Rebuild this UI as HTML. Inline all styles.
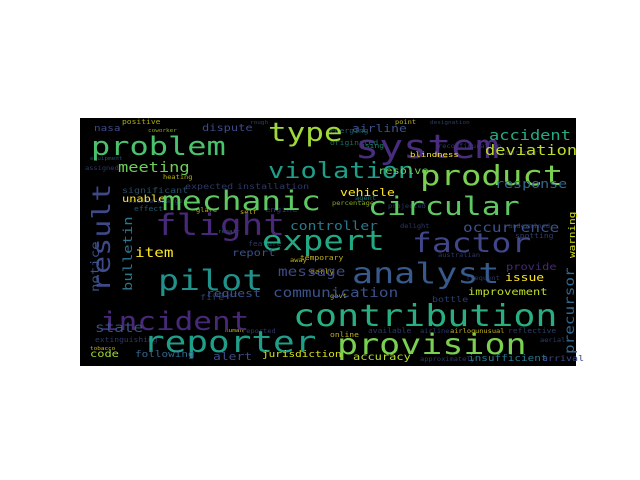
<!DOCTYPE html>
<html><head><meta charset="utf-8"><style>
html,body{margin:0;padding:0;background:#fff;width:640px;height:480px;overflow:hidden}
svg text{font-family:"DejaVu Sans Mono","Liberation Mono",monospace}
</style></head><body>
<svg id="cloud" width="640" height="480" xmlns="http://www.w3.org/2000/svg">
<rect x="80" y="118" width="496" height="248" fill="#000"/>
<g opacity="0.75">
<text x="122" y="124" font-size="8" fill="#d8e219">positive</text>
<text x="148" y="132" font-size="6" fill="#b5de2b">coworker</text>
<text x="250" y="124" font-size="6" fill="#3b528b">rough</text>
<text x="122" y="193" font-size="10" fill="#31688e">significant</text>
<text x="185" y="189" font-size="10" fill="#3e4a89">expected</text>
<text x="237" y="189" font-size="10" fill="#3e4a89">installation</text>
<text x="265" y="212" font-size="9" fill="#3e4a89">engine</text>
<text x="240" y="214" font-size="7" fill="#fde725">self</text>
<text x="196" y="212" font-size="7" fill="#fde725">glare</text>
<text x="134" y="211" font-size="8" fill="#2a788e">effect</text>
<text x="128" y="203" font-size="7" fill="#3b528b">countercharge</text>
<text x="163" y="179" font-size="7" fill="#e5e419">heating</text>
<text x="85" y="170" font-size="7" fill="#3e4a89">assigned</text>
<text x="90" y="160" font-size="6" fill="#31688e">equipment</text>
<text x="360" y="148" font-size="8" fill="#25ab82">using</text>
<text x="330" y="145" font-size="8" fill="#21918c">originated</text>
<text x="330" y="133" font-size="8" fill="#2a788e">emerging</text>
<text x="438" y="148" font-size="7" fill="#3e4a89">reconfiguration</text>
<text x="500" y="155" font-size="8" fill="#482878">improper</text>
<text x="430" y="124" font-size="6" fill="#3b528b">designation</text>
<text x="395" y="124" font-size="7" fill="#fde725">point</text>
<text x="388" y="208" font-size="7" fill="#3e4a89">projected</text>
<text x="355" y="200" font-size="7" fill="#21918c">agent</text>
<text x="332" y="205" font-size="7" fill="#b5de2b">percentage</text>
<text x="515" y="238" font-size="8" fill="#3b528b">spotting</text>
<text x="508" y="228" font-size="7" fill="#3b528b">undermined</text>
<text x="400" y="228" font-size="7" fill="#3e4a89">delight</text>
<text x="438" y="257" font-size="7" fill="#3e4a89">australian</text>
<text x="466" y="280" font-size="7" fill="#3e4a89">frequent</text>
<text x="330" y="298" font-size="7" fill="#fde725">govt</text>
<text x="432" y="302" font-size="10" fill="#3b528b">bottle</text>
<text x="200" y="300" font-size="10" fill="#3b528b">fire</text>
<text x="330" y="337" font-size="8" fill="#fde725">online</text>
<text x="368" y="333" font-size="8" fill="#3e4a89">available</text>
<text x="420" y="333" font-size="7" fill="#3e4a89">airline</text>
<text x="450" y="333" font-size="7" fill="#fde725">airlog</text>
<text x="475" y="333" font-size="7" fill="#fde725">unusual</text>
<text x="508" y="333" font-size="8" fill="#3b528b">reflective</text>
<text x="540" y="342" font-size="7" fill="#3b528b">aerial</text>
<text x="95" y="342" font-size="8" fill="#3e4a89">extinguishing</text>
<text x="90" y="350" font-size="6" fill="#fde725">tobacco</text>
<text x="208" y="297" font-size="7" fill="#3e4a89">contact</text>
<text x="290" y="262" font-size="7" fill="#fde725">away</text>
<text x="300" y="260" font-size="8" fill="#fde725">temporary</text>
<text x="310" y="274" font-size="8" fill="#fde725">early</text>
<text x="242" y="333" font-size="7" fill="#3e4a89">reported</text>
<text x="225" y="332" font-size="6" fill="#fde725">human</text>
<text x="248" y="246" font-size="8" fill="#3e4a89">feature</text>
<text x="420" y="361" font-size="7" fill="#3e4a89">approximately</text>
<text x="218" y="233" font-size="6" fill="#21918c">repair</text>
</g>
<g>
<text x="91" y="155" font-size="32" fill="#4ac16d">problem</text>
<text x="268" y="141" font-size="31" fill="#a0da39">type</text>
<text x="355" y="158" font-size="40" fill="#472d7b">system</text>
<text x="352" y="132" font-size="13" fill="#3b528b">airline</text>
<text x="489" y="140" font-size="17" fill="#25ab82">accident</text>
<text x="485" y="155" font-size="17" fill="#bddf26">deviation</text>
<text x="94" y="131" font-size="11" fill="#3e4a89">nasa</text>
<text x="202" y="131" font-size="12" fill="#3e4a89">dispute</text>
<text x="118" y="172" font-size="17" fill="#6ece58">meeting</text>
<text x="268" y="178" font-size="27" fill="#1f9e89">violation</text>
<text x="420" y="185" font-size="34" fill="#7ad151">product</text>
<text x="378" y="174" font-size="12" fill="#6ece58">resolve</text>
<text x="410" y="157" font-size="9" fill="#fde725">blindness</text>
<text x="495" y="188" font-size="15" fill="#31688e">response</text>
<text x="122" y="202" font-size="12" fill="#fde725">unable</text>
<text x="340" y="196" font-size="13" fill="#fde725">vehicle</text>
<text x="162" y="210" font-size="33" fill="#5ec962">mechanic</text>
<text x="368" y="215" font-size="31.5" fill="#5ec962">circular</text>
<text transform="translate(110,292) rotate(-90)" font-size="30" fill="#3e4989">result</text>
<text x="155" y="235" font-size="36" fill="#482878">flight</text>
<text x="290" y="230" font-size="14.6" fill="#2a788e">controller</text>
<text x="463" y="232" font-size="16" fill="#3b528b">occurrence</text>
<text x="262" y="250" font-size="34" fill="#22a884">expert</text>
<text x="412" y="252" font-size="33" fill="#404688">factor</text>
<text transform="translate(99,292) rotate(-90)" font-size="14" fill="#3b528b">notice</text>
<text transform="translate(132,291) rotate(-90)" font-size="15.5" fill="#2a788e">bulletin</text>
<text x="135" y="257" font-size="16" fill="#fde725">item</text>
<text x="232" y="256" font-size="12" fill="#3b528b">report</text>
<text x="158" y="290" font-size="35" fill="#21918c">pilot</text>
<text x="278" y="276" font-size="16" fill="#3e4a89">message</text>
<text x="352" y="283" font-size="35" fill="#38598c">analyst</text>
<text x="506" y="270" font-size="12" fill="#482878">provide</text>
<text x="505" y="281" font-size="13" fill="#fde725">issue</text>
<text x="468" y="295" font-size="12" fill="#bddf26">improvement</text>
<text transform="translate(574,354) rotate(-90)" font-size="16" fill="#31688e">precursor</text>
<text transform="translate(575,258) rotate(-90)" font-size="11" fill="#d8e219">warning</text>
<text x="206" y="297" font-size="13" fill="#3b528b">request</text>
<text x="273" y="297" font-size="16" fill="#3b528b">communication</text>
<text x="100" y="330" font-size="31" fill="#482878">incident</text>
<text x="293" y="326" font-size="36.6" fill="#29af7f">contribution</text>
<text x="95" y="332" font-size="16" fill="#3b528b">state</text>
<text x="143" y="352" font-size="36" fill="#1f9e89">reporter</text>
<text x="337" y="354" font-size="35" fill="#7ad151">provision</text>
<text x="90" y="357" font-size="12" fill="#a0da39">code</text>
<text x="135" y="357" font-size="11" fill="#31688e">following</text>
<text x="213" y="360" font-size="13" fill="#3e4a89">alert</text>
<text x="262" y="357" font-size="11" fill="#d8e219">jurisdiction</text>
<text x="353" y="360" font-size="12" fill="#b5de2b">accuracy</text>
<text x="468" y="361" font-size="11" fill="#2a788e">insufficient</text>
<text x="542" y="361" font-size="10" fill="#3e4a89">arrival</text>
</g>
<script>
// keep word widths, reduce glyph height to match reference typeface proportions
document.querySelectorAll('#cloud text').forEach(function(t){
  var fs=parseFloat(t.getAttribute('font-size'));
  var n=t.textContent.length;
  t.setAttribute('textLength',(n*0.602*fs).toFixed(1));
  t.setAttribute('lengthAdjust','spacingAndGlyphs');
  t.setAttribute('font-size',(fs*0.82).toFixed(1));
});
</script>
</svg>
</body></html>
